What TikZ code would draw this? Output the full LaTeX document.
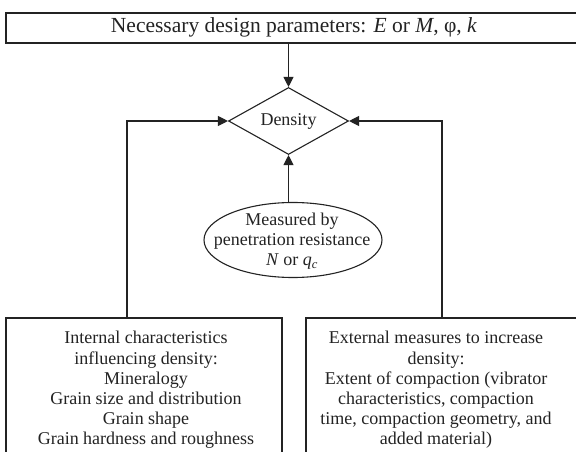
\documentclass[tikz,border=0pt]{standalone}
\usepackage{fontspec}
\setmainfont{Liberation Serif}
\usetikzlibrary{shapes.geometric,arrows.meta}
\definecolor{ink}{RGB}{35,35,35}
\tikzset{
  box/.style={draw=ink, line width=1.1pt, rectangle, inner sep=0pt},
  txt/.style={align=center, font=\fontsize{18}{20.2}\selectfont, text=ink, inner sep=0pt},
  conn/.style={draw=ink, line width=1.1pt, -{Triangle[length=10pt,width=10pt]}},
}
\begin{document}
\begin{tikzpicture}[x=1pt,y=-1pt]
\useasboundingbox (0,0) rectangle (576,452);
\clip (0,0) rectangle (576,452);
\fill[white] (0,0) rectangle (576,452);
% top box
\node[box, minimum width=580pt, minimum height=30pt] (top) at (296,28) {};
\node[txt, font=\fontsize{21.5}{23}\selectfont] (toptext) at (294,27) {Necessary design parameters: \textit{E} or \textit{M}, φ, \textit{k}};
% diamond
\node[draw=ink, line width=1.1pt, diamond, minimum width=120pt, minimum height=67pt, inner sep=0pt] (dens) at (288.5,121) {};
\node[txt] (denstext) at (288.5,121) {Density};
% ellipse
\node[draw=ink, line width=1.1pt, ellipse, minimum width=178pt, minimum height=75pt, inner sep=0pt] (meas) at (293,240) {};
\node[txt] (meastext) at (292,241) {Measured by\\penetration resistance\\\textit{N} or \textit{q}\textsubscript{\textit{c}}};
% bottom boxes
\node[box, minimum width=276pt, minimum height=150pt] (lbox) at (144,393) {};
\node[txt] (ltext) at (146,390) {Internal characteristics\\influencing density:\\Mineralogy\\Grain size and distribution\\Grain shape\\Grain hardness and roughness};
\node[box, minimum width=280pt, minimum height=150pt] (rbox) at (446,393) {};
\node[txt] (rtext) at (436,390) {External measures to increase\\density:\\Extent of compaction (vibrator\\characteristics, compaction\\time, compaction geometry, and\\added material)};
% connectors
\coordinate (lc) at (127,121);
\coordinate (rc) at (442,121);
\draw[conn] (top.south -| dens.north) -- (dens.north);
\draw[conn] (meas.north -| dens.south) -- (dens.south);
\draw[conn] (lbox.north -| lc) -- (lc) -- (dens.west);
\draw[conn] (rbox.north -| rc) -- (rc) -- (dens.east);
\end{tikzpicture}
\end{document}
